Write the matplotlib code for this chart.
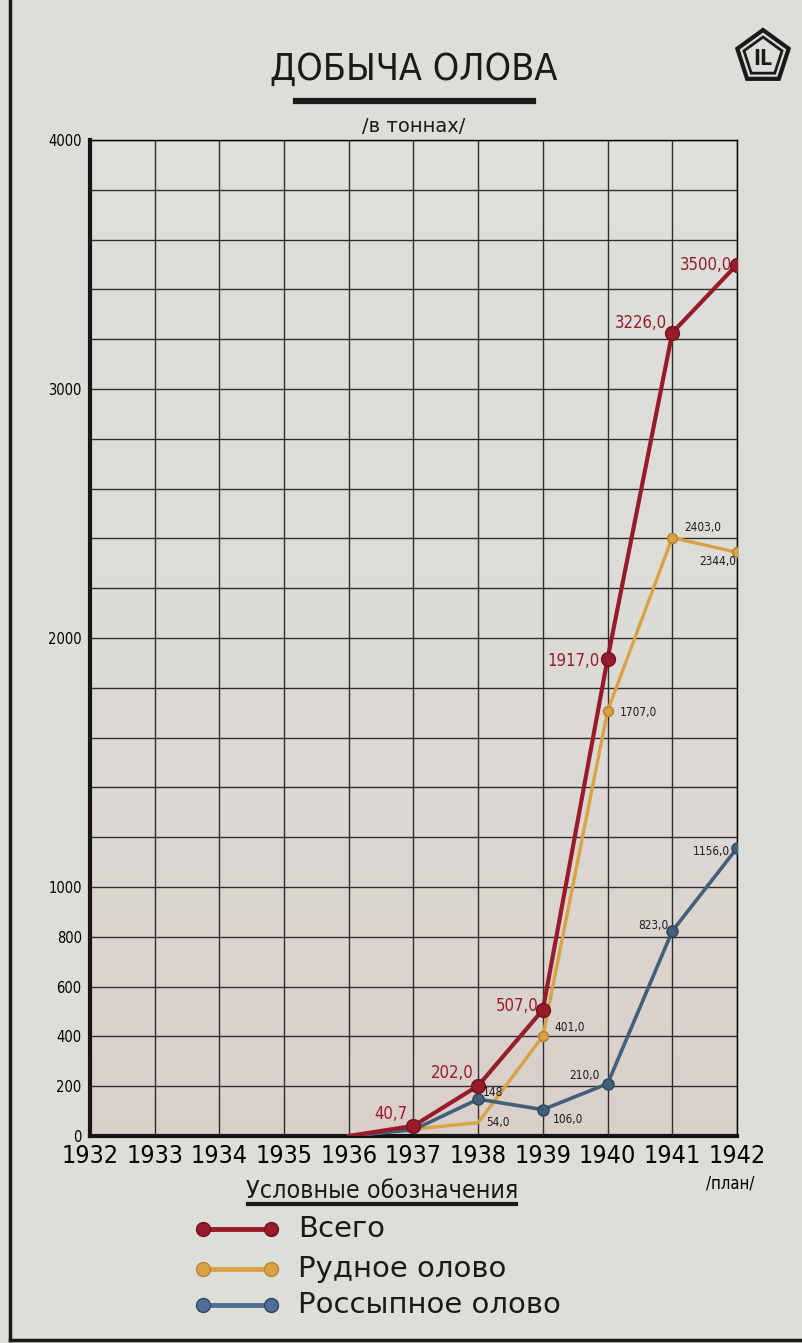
import numpy as np
import matplotlib.pyplot as plt
from matplotlib.patches import Polygon
from matplotlib.lines import Line2D

# data (tonnes)
years = list(range(1932, 1943))
year_labels = [str(y) for y in years]
y_ticks = list(range(0, 4001, 200))
y_labelled = [0, 200, 400, 600, 800, 1000, 2000, 3000, 4000]

total_years = [1936, 1937, 1938, 1939, 1940, 1941, 1942]
total_vals = [0, 40.7, 202.0, 507.0, 1917.0, 3226.0, 3500.0]
total_text = ["", "40,7", "202,0", "507,0", "1917,0", "3226,0", "3500,0"]

ore_years = [1936, 1938, 1939, 1940, 1941, 1942]
ore_vals = [0, 54.0, 401.0, 1707.0, 2403.0, 2344.0]
ore_text = ["", "54,0", "401,0", "1707,0", "2403,0", "2344,0"]

placer_years = [1936, 1937, 1938, 1939, 1940, 1941, 1942]
placer_vals = [0, 25, 148, 106.0, 210.0, 823.0, 1156.0]
placer_text = ["", "", "148", "106,0", "210,0", "823,0", "1156,0"]

legend_names = ["Всего", "Рудное олово", "Россыпное олово"]

# label offsets in pixels (dx, dy, ha)
total_off = [None, (-6, 12, "right"), (-5, 13, "right"), (-4, 4, "right"),
             (-8, -2, "right"), (-5, 10, "right"), (-5, 0, "right")]
ore_off = [None, (8, 0, "left"), (12, 9, "left"), (12, -2, "left"),
           (12, 10, "left"), (-1, -9, "right")]
placer_off = [None, None, (5, 7, "left"), (10, -10, "left"), (-8, 8, "right"),
              (-4, 6, "right"), (-7, -3, "right")]

RED = "#971b2b"
ORANGE = "#d9a244"
BLUE = "#43607a"
BG = "#dcded8"
FONT = dict(family="DejaVu Sans", stretch="condensed")

W, H = 803, 1343
def fx(x):
    return x / W
def fy(y):
    return 1 - y / H

fig = plt.figure(figsize=(W / 100, H / 100), dpi=100, facecolor=BG)
ax = fig.add_axes([fx(90), fy(1136), (737 - 90) / W, (1136 - 140) / H])
ax.set_xlim(1932, 1942)
ax.set_ylim(0, 4000)

# paper tint, slightly pinker toward the bottom
grad = np.linspace(0, 1, 200).reshape(-1, 1)
top = np.array([0.87, 0.875, 0.855])
bot = np.array([0.855, 0.81, 0.79])
img = top + (bot - top) * grad[::-1] ** 2
ax.imshow(img.reshape(200, 1, 3), extent=(1932, 1942, 0, 4000), aspect="auto",
          origin="lower", zorder=0)

ax.set_xticks(years)
ax.set_xticklabels(year_labels, fontsize=18, **FONT)
ax.set_yticks(y_ticks)
ax.set_yticklabels([str(v) if v in y_labelled else "" for v in y_ticks],
                   fontsize=10.5, **FONT)
ax.tick_params(length=0, pad=6)
ax.tick_params(axis="x", pad=6)
ax.grid(True, color="#2e2e2e", lw=1.0, zorder=1)
for s in ("top", "right"):
    ax.spines[s].set_linewidth(1.0)
for s in ("left", "bottom"):
    ax.spines[s].set_linewidth(3.0)
    ax.spines[s].set_color("#151515")

ax.plot(ore_years, ore_vals, color=ORANGE, lw=2.4, zorder=3)
ax.plot(ore_years[2:], ore_vals[2:], "o", ms=7, mfc=ORANGE, mec="#b88530",
        mew=1.2, zorder=4)
ax.plot(placer_years, placer_vals, color=BLUE, lw=2.6, zorder=3)
ax.plot(placer_years[2:], placer_vals[2:], "o", ms=8, mfc=BLUE, mec="#2f455c",
        zorder=4)
ax.plot(total_years, total_vals, color=RED, lw=3.0, zorder=5)
ax.plot(total_years[1:], total_vals[1:], "o", ms=10, mfc=RED, mec="#6d1320",
        zorder=6)

def put_labels(xs, vs, texts, offs, color, size):
    for x, v, t, o in zip(xs, vs, texts, offs):
        if not t:
            continue
        ax.annotate(t, (x, v), xytext=(o[0], o[1]), textcoords="offset pixels",
                    ha=o[2], va="center", color=color, fontsize=size,
                    zorder=7, **FONT)

put_labels(total_years, total_vals, total_text, total_off, RED, 12)
put_labels(ore_years, ore_vals, ore_text, ore_off, "#1c1c1c", 8.5)
put_labels(placer_years, placer_vals, placer_text, placer_off, "#1c1c1c", 8.5)

fig.text(fx(730), fy(1184), "/план/", ha="center", va="center", fontsize=12,
         **FONT)

# title
fig.text(fx(414), fy(70), "ДОБЫЧА ОЛОВА", ha="center", va="center",
         fontsize=27, color="#1a1a1a", **FONT)
fig.add_artist(Line2D([fx(296), fx(533)], [fy(101), fy(101)], lw=4.5,
                      color="#1a1a1a"))
fig.text(fx(414), fy(126), "/в тоннах/", ha="center", va="center",
         fontsize=14, color="#1a1a1a")

# emblem
def pentagon(cx, cy, r):
    ang = np.pi / 2 + np.arange(5) * 2 * np.pi / 5
    return [(fx(cx + r * np.cos(a)), fy(cy - r * np.sin(a))) for a in ang]

fig.add_artist(Polygon(pentagon(763, 57, 27), closed=True, fill=False,
                       lw=3, ec="#1a1a1a", transform=fig.transFigure))
fig.add_artist(Polygon(pentagon(763, 57, 20), closed=True, fill=False,
                       lw=2, ec="#1a1a1a", transform=fig.transFigure))
fig.text(fx(763), fy(59), "IL", ha="center", va="center", fontsize=15,
         fontweight="bold", color="#1a1a1a", **FONT)

# legend
fig.text(fx(382), fy(1191), "Условные обозначения", ha="center", va="center",
         fontsize=18, color="#1a1a1a", **FONT)
fig.add_artist(Line2D([fx(248), fx(516)], [fy(1204), fy(1204)], lw=3,
                      color="#1a1a1a"))
leg_y = [1229, 1269, 1305]
for name, col, edge, yy in zip(legend_names, [RED, ORANGE, "#4f6f97"],
                               ["#6d1320", "#b88530", "#2f455c"], leg_y):
    fig.add_artist(Line2D([fx(203), fx(271)], [fy(yy), fy(yy)], lw=3.5,
                          color=col, marker="o", ms=10, mfc=col, mec=edge))
    fig.text(fx(298), fy(yy), name, ha="left", va="center", fontsize=21,
             color="#1a1a1a")

# page frame
fig.add_artist(Line2D([fx(10), fx(10)], [fy(0), fy(1340)], lw=2.5,
                      color="#1a1a1a"))
fig.add_artist(Line2D([fx(10), fx(803)], [fy(1340), fy(1340)], lw=2.5,
                      color="#1a1a1a"))

fig.savefig("out.png", dpi=100, facecolor=BG)
